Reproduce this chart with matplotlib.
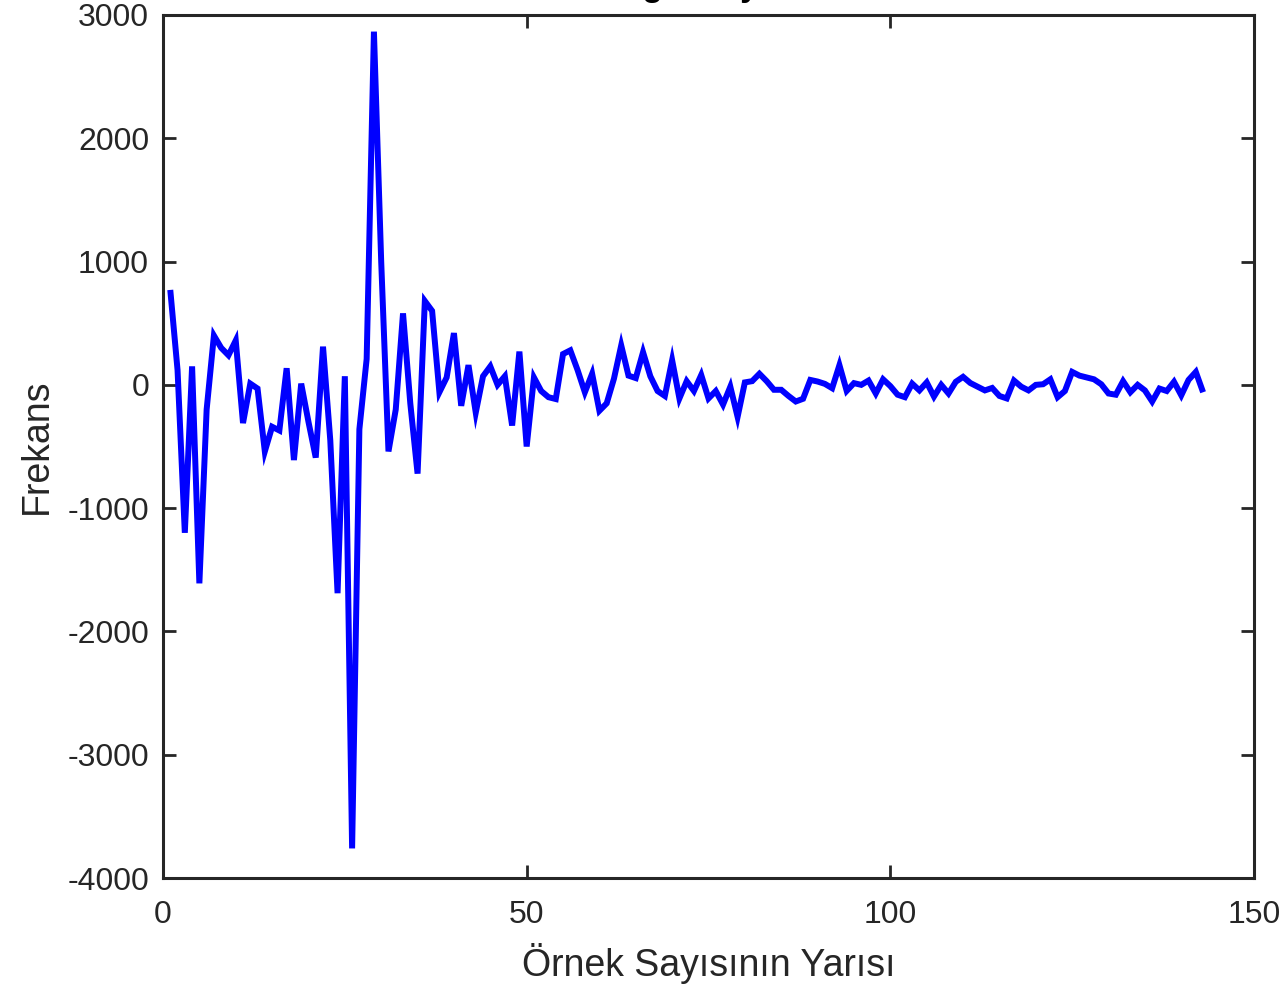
import matplotlib
matplotlib.use("Agg")
import matplotlib.pyplot as plt
import numpy as np

plt.rcParams['font.family'] = ['Liberation Sans', 'DejaVu Sans']
plt.rcParams['axes.unicode_minus'] = False

# Half of the FFT sample index range
sample_index = list(range(1, 144))

frequency_values = [
    770, 120, -1200, 150, -1610, -200, 400, 300, 240, 360,
    -310, 10, -30, -540, -340, -370, 135, -610, 10, -300,
    -590, 310, -450, -1690, 70, -3760, -360, 210, 2865, 1000,
    -540, -200, 580, -150, -720, 680, 600, -60, 60, 420,
    -170, 160, -225, 70, 150, 0, 70, -330, 270, -500,
    60, -50, -100, -115, 250, 280, 120, -60, 90, -210,
    -150, 50, 320, 75, 55, 265, 70, -50, -90, 200,
    -110, 30, -50, 80, -110, -50, -160, -15, -260, 20,
    30, 90, 30, -40, -40, -90, -135, -113, 40, 27,
    8, -27, 160, -49, 14, 0, 35, -70, 45, -10,
    -80, -100, 10, -45, 20, -95, 0, -70, 25, 65,
    15, -15, -45, -25, -90, -110, 35, -15, -45, 0,
    5, 45, -100, -50, 105, 75, 60, 45, 5, -70,
    -80, 30, -60, 0, -45, -135, -30, -50, 25, -85,
    40, 105, -60,
]

x_ticks = [0, 50, 100, 150]
y_ticks = [-4000, -3000, -2000, -1000, 0, 1000, 2000, 3000]

title_text = "Frekans Bölgesi Ayrık Gösterimi"
x_label = "Örnek Sayısının Yarısı"
y_label = "Frekans"

W, H = 1280, 989
fig = plt.figure(figsize=(W / 100, H / 100), dpi=100)
ax = fig.add_axes([163 / W, (H - 878) / H, (1254 - 163) / W, (878 - 15) / H])

ax.plot(sample_index, frequency_values, color=(0, 0, 1), linewidth=4.3,
        solid_joinstyle='miter', solid_capstyle='butt')

ax.set_xlim(0, 150)
ax.set_ylim(-4000, 3000)
ax.set_xticks(x_ticks)
ax.set_yticks(y_ticks)

edge = '#262626'
for sp in ax.spines.values():
    sp.set_color(edge)
    sp.set_linewidth(2.2)
ax.tick_params(axis='both', which='both', direction='in', length=9.5, width=2,
               color=edge, labelcolor=edge, labelsize=23, top=True, right=True)
ax.tick_params(axis='x', pad=16)
ax.tick_params(axis='y', pad=10)

ax.set_xlabel(x_label, fontsize=27, color=edge, labelpad=9)
ax.set_ylabel(y_label, fontsize=27, color=edge, labelpad=9)

fig.text((163 + 1254) / 2 / W, 1 + 4.0 / H, title_text, ha='center', va='baseline',
         fontsize=24, fontweight='bold', color='black')

fig.savefig("out.png", dpi=100)
